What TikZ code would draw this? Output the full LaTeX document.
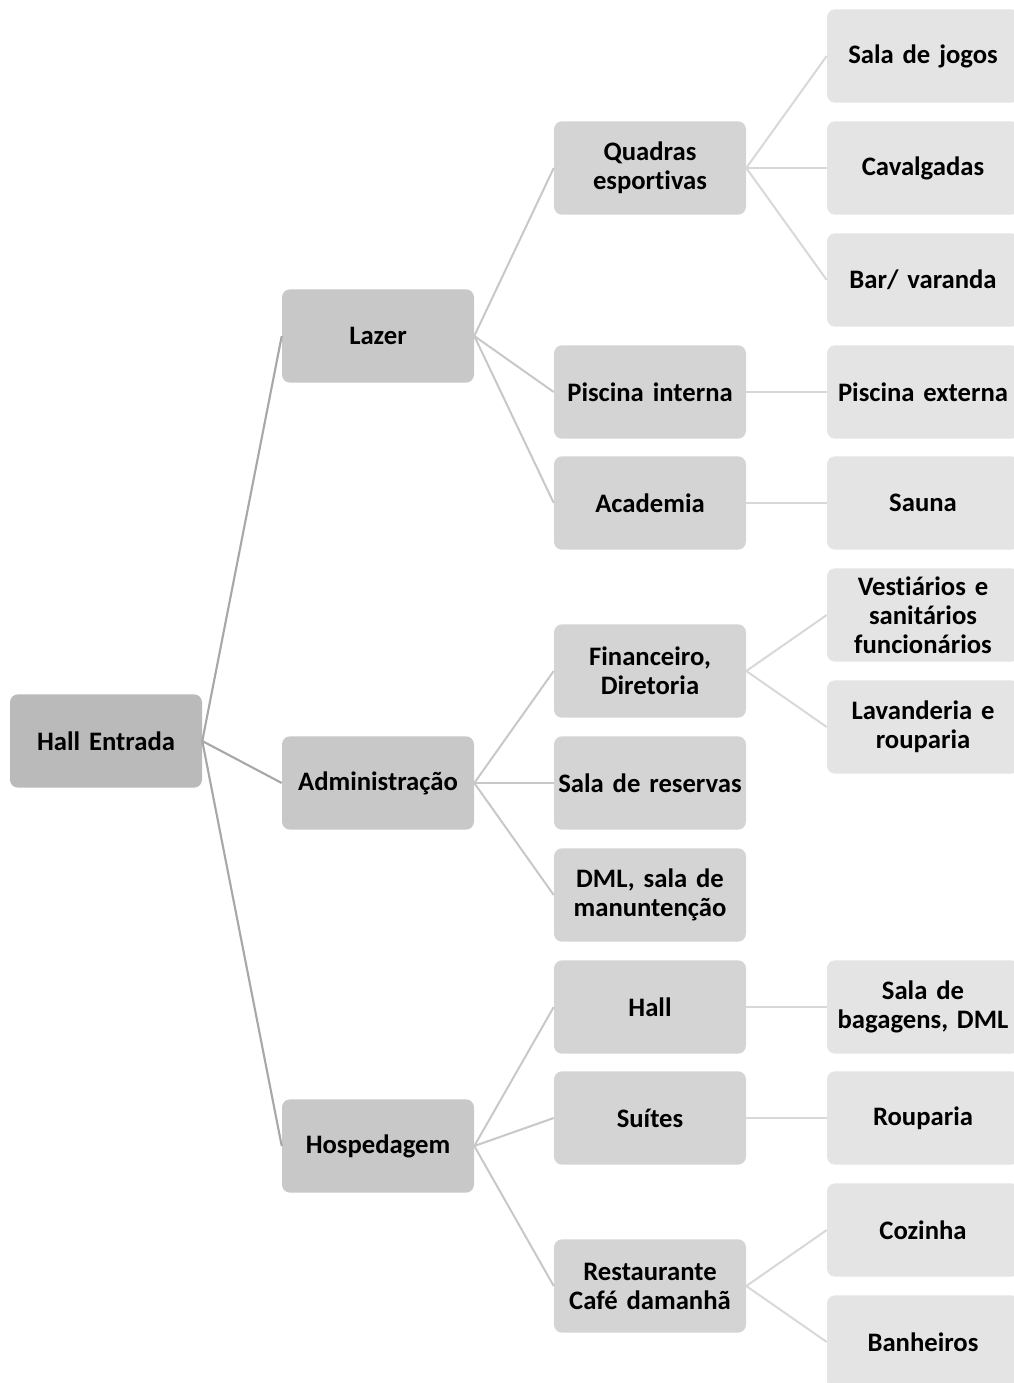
\documentclass[tikz,border=0pt]{standalone}
\usepackage{fontspec}
\setmainfont{Carlito}[Ligatures=NoCommon, WordSpace=0.8]
\definecolor{nivelA}{RGB}{186,186,186}
\definecolor{nivelB}{RGB}{200,200,200}
\definecolor{nivelC}{RGB}{212,212,212}
\definecolor{nivelD}{RGB}{228,228,228}
\definecolor{linhaA}{RGB}{168,168,168}
\definecolor{linhaB}{RGB}{200,200,200}
\definecolor{linhaC}{RGB}{216,216,216}
\begin{document}
\begin{tikzpicture}[x=0.75pt, y=-0.75pt,
    every node/.style={rectangle, rounded corners=6pt, minimum width=144pt, minimum height=70pt,
        inner sep=0pt, text width=140pt, align=center,
        font=\fontsize{20}{21.75}\selectfont\bfseries},
    raiz/.style={fill=nivelA}, grupo/.style={fill=nivelB}, setor/.style={fill=nivelC}, anexo/.style={fill=nivelD},
    ligA/.style={draw=linhaA, line width=1.6pt}, ligB/.style={draw=linhaB, line width=1.5pt},
    ligC/.style={draw=linhaC, line width=1.5pt}]
    \useasboundingbox (0, 0) rectangle (1013, 1383);
    \node[raiz] (hall) at (106, 741) {Hall Entrada};

    \node[grupo] (lazer) at (378, 336) {Lazer};
    \node[grupo] (adm) at (378, 783) {Administração};
    \node[grupo] (hosp) at (378, 1146) {Hospedagem};

    \node[setor] (quadras) at (650, 168) {Quadras\\esportivas};
    \node[setor] (piscina) at (650, 392) {Piscina interna};
    \node[setor] (academia) at (650, 503) {Academia};
    \node[setor] (financeiro) at (650, 671) {Financeiro,\\Diretoria};
    \node[setor] (reservas) at (650, 783) {Sala de reservas};
    \node[setor] (dml) at (650, 895) {DML, sala de\\manuntenção};
    \node[setor] (hallhosp) at (650, 1007) {Hall};
    \node[setor] (suites) at (650, 1118) {Suítes};
    \node[setor] (restaurante) at (650, 1286) {Restaurante\\Café damanhã};

    \node[anexo] (jogos) at (923, 56) {Sala de jogos};
    \node[anexo] (cavalgadas) at (923, 168) {Cavalgadas};
    \node[anexo] (bar) at (923, 280) {Bar/ varanda};
    \node[anexo] (pisext) at (923, 392) {Piscina externa};
    \node[anexo] (sauna) at (923, 503) {Sauna};
    \node[anexo] (vestiarios) at (923, 615) {Vestiários e\\sanitários\\funcionários};
    \node[anexo] (lavanderia) at (923, 727) {Lavanderia e\\rouparia};
    \node[anexo] (bagagens) at (923, 1007) {Sala de\\bagagens, DML};
    \node[anexo] (rouparia) at (923, 1118) {Rouparia};
    \node[anexo] (cozinha) at (923, 1230) {Cozinha};
    \node[anexo] (banheiros) at (923, 1342) {Banheiros};

    % primeiro nivel
    \draw[ligA] (hall.east) -- (lazer.west);
    \draw[ligA] (hall.east) -- (adm.west);
    \draw[ligA] (hall.east) -- (hosp.west);

    % segundo nivel
    \draw[ligB] (lazer.east) -- (quadras.west);
    \draw[ligB] (lazer.east) -- (piscina.west);
    \draw[ligB] (lazer.east) -- (academia.west);
    \draw[ligB] (adm.east) -- (financeiro.west);
    \draw[ligB] (adm.east) -- (reservas.west);
    \draw[ligB] (adm.east) -- (dml.west);
    \draw[ligB] (hosp.east) -- (hallhosp.west);
    \draw[ligB] (hosp.east) -- (suites.west);
    \draw[ligB] (hosp.east) -- (restaurante.west);

    % terceiro nivel
    \draw[ligC] (quadras.east) -- (jogos.west);
    \draw[ligC] (quadras.east) -- (cavalgadas.west);
    \draw[ligC] (quadras.east) -- (bar.west);
    \draw[ligC] (piscina.east) -- (pisext.west);
    \draw[ligC] (academia.east) -- (sauna.west);
    \draw[ligC] (financeiro.east) -- (vestiarios.west);
    \draw[ligC] (financeiro.east) -- (lavanderia.west);
    \draw[ligC] (hallhosp.east) -- (bagagens.west);
    \draw[ligC] (suites.east) -- (rouparia.west);
    \draw[ligC] (restaurante.east) -- (cozinha.west);
    \draw[ligC] (restaurante.east) -- (banheiros.west);
\end{tikzpicture}
\end{document}
